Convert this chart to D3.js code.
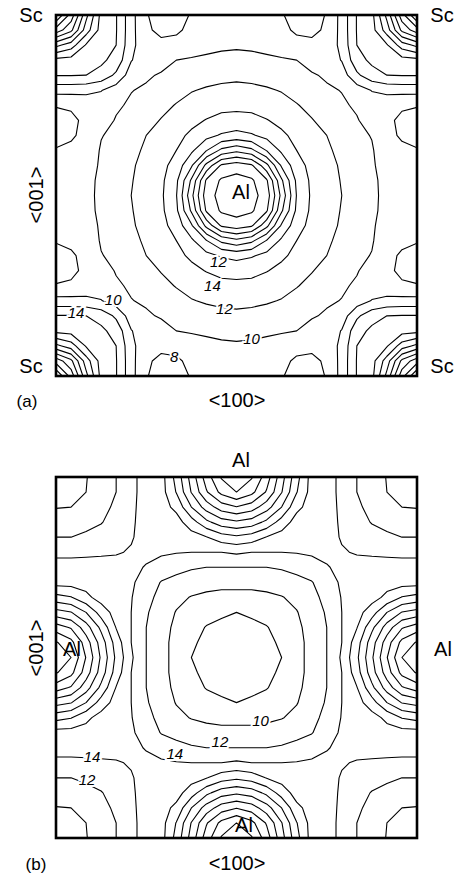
<!DOCTYPE html>
<html><head><meta charset="utf-8">
<script src="https://cdn.jsdelivr.net/npm/d3@7"></script>
<style>body{margin:0;background:#fff}svg{display:block}text{font-family:"Liberation Sans",Arial,sans-serif;fill:#000}</style>
</head><body><svg id="c" width="466" height="879"></svg>
<script>
// Charge density values (10^-3 e/bohr^3), one quadrant each
// (rows = <001> steps from the top edge, columns = <100> steps from the left edge, 24 steps per cell).
// (a): Sc corner at [0][0], Al at [12][12].  (b): empty corner at [0][0], Al at [0][12] and [12][0].
const quadA = [
  [32.0,27.2,20.6,15.4,14.1,10.7, 8.1, 7.4, 7.5, 8.1, 8.5, 8.7, 8.8],
  [27.2,24.5,19.0,15.2,14.1,10.7, 8.2, 7.7, 7.8, 8.3, 8.6, 8.8, 8.9],
  [20.6,19.0,15.8,14.8,14.0,10.6, 8.6, 8.3, 8.4, 8.6, 9.2, 9.6, 9.7],
  [15.4,15.2,14.8,14.4,13.3,10.1, 8.9, 8.9,10.0,10.3,10.5,10.6,10.7],
  [14.1,14.1,14.0,13.3,11.6, 9.0, 9.6,10.3,10.6,11.0,11.3,11.5,11.6],
  [10.7,10.7,10.6,10.1, 9.0, 9.9,10.4,10.9,11.4,11.9,12.2,12.4,12.5],
  [ 8.1, 8.2, 8.6, 8.9, 9.6,10.4,10.9,11.5,12.1,12.6,13.0,13.4,13.5],
  [ 7.4, 7.7, 8.3, 8.8,10.2,10.8,11.4,12.1,12.7,13.4,14.1,14.6,14.7],
  [ 7.5, 7.8, 8.4, 9.9,10.5,11.2,12.0,12.6,13.4,14.4,15.4,16.2,16.6],
  [ 8.1, 8.3, 8.6,10.2,10.8,11.5,12.3,13.0,14.0,15.6,17.9,20.5,21.5],
  [ 8.5, 8.6, 9.0,10.3,11.0,11.8,12.5,13.4,14.8,17.7,22.6,26.3,27.1],
  [ 8.7, 8.8, 9.4,10.4,11.1,11.9,12.7,13.6,15.6,20.3,26.3,28.3,28.7],
  [ 8.8, 8.9, 9.5,10.4,11.1,12.0,12.7,13.7,15.9,21.4,27.1,28.7,29.5]
];
const quadB = [
  [ 9.0, 9.4, 9.9,11.1,12.0,13.5,14.8,15.2,18.7,22.8,27.0,30.2,31.0],
  [ 9.4, 9.6,10.0,11.2,12.0,13.5,14.8,15.2,18.1,22.1,25.8,28.6,30.0],
  [ 9.9,10.0,10.7,11.5,12.3,13.6,14.8,15.2,16.5,20.0,22.9,25.0,25.9],
  [11.1,11.2,11.5,11.9,12.7,13.7,14.8,15.2,15.2,17.1,19.5,21.1,21.7],
  [12.0,12.0,12.3,12.7,13.2,13.8,14.9,15.2,15.2,15.2,15.9,17.1,17.6],
  [13.5,13.5,13.6,13.7,13.8,14.2,14.7,14.3,14.1,14.0,14.0,14.0,14.3],
  [14.8,14.8,14.8,14.8,14.9,14.7,13.8,13.1,12.6,12.2,12.0,12.0,12.0],
  [15.2,15.2,15.2,15.2,15.2,14.3,13.1,11.9,11.4,11.0,10.7,10.6,10.6],
  [18.7,18.1,16.5,15.2,15.2,14.1,12.6,11.4,10.5, 9.9, 9.6, 9.4, 9.4],
  [22.8,22.1,20.0,17.1,15.2,14.0,12.2,11.0, 9.9, 9.3, 8.7, 8.2, 8.0],
  [27.0,25.8,22.9,19.5,15.9,14.0,12.0,10.7, 9.6, 8.7, 7.9, 7.7, 7.7],
  [30.2,28.6,25.0,21.1,17.1,14.0,12.0,10.6, 9.4, 8.2, 7.7, 7.5, 7.3],
  [31.0,30.0,25.9,21.7,17.6,14.3,12.0,10.6, 9.4, 8.0, 7.7, 7.3, 7.0]
];
const levelsA = [8,10,12,14,16,18,20,22,24,26,28,30,32];
const levelsB = [8,10,12,14,16,18,20,22,24,26,28,30];
// contour labels: text and position in grid steps (u along <100>, v down from top)
const labelsA = [
  {t:"12",u:10.8,v:16.4},{t:"14",u:10.4,v:18.0},{t:"12",u:11.2,v:19.5},{t:"10",u:13.0,v:21.5},
  {t:"10",u:3.8,v:18.95},{t:"14",u:1.33,v:19.8},{t:"8",u:7.85,v:22.7}
];
const labelsB = [
  {t:"10",u:13.6,v:16.2},{t:"12",u:10.9,v:17.6},{t:"14",u:7.9,v:18.4},{t:"14",u:2.4,v:18.6},{t:"12",u:2.06,v:20.1}
];
const atomsA = ["Sc","Sc","Sc","Sc","Al"];
const atomsB = ["Al","Al","Al","Al"];

const svg=d3.select("#c");
function fold(k){ const m=((k%24)+24)%24; return Math.min(m,24-m); }
function panel(quad,levels,x0,y0,id){
  const n=27, vals=new Array(n*n);
  for(let j=0;j<n;j++) for(let i=0;i<n;i++) vals[i+j*n]=quad[fold(j-1)][fold(i-1)];
  const W=361, k=W/24;
  const sx=d3.scaleLinear().domain([0,24]).range([x0,x0+W]);
  const sy=d3.scaleLinear().domain([0,24]).range([y0,y0+W]);
  svg.append("clipPath").attr("id",id).append("rect").attr("x",x0).attr("y",y0).attr("width",W).attr("height",W);
  // grid sample m sits at contour coordinate m+0.5 and at step m-1
  const path=d3.geoPath(d3.geoIdentity().scale(k).translate([sx(-1.5),sy(-1.5)]));
  const cs=d3.contours().size([n,n]).thresholds(levels)(vals);
  svg.append("g").attr("clip-path",`url(#${id})`).selectAll("path").data(cs).join("path")
    .attr("d",path).attr("fill","none").attr("stroke","#000").attr("stroke-width",1.1).attr("stroke-linejoin","round");
  svg.append("rect").attr("x",x0).attr("y",y0).attr("width",W).attr("height",W).attr("fill","none").attr("stroke","#000").attr("stroke-width",2.6);
  return {x:sx,y:sy};
}
const sa=panel(quadA,levelsA,56,15,"ca");
const sb=panel(quadB,levelsB,56,477,"cb");
function clabels(labs,s){
  svg.append("g").selectAll("text").data(labs).join("text")
    .attr("x",d=>s.x(d.u)).attr("y",d=>s.y(d.v)).attr("dy","0.35em").attr("text-anchor","middle")
    .attr("font-size",15).attr("font-style","italic").attr("stroke","#fff").attr("stroke-width",4).attr("paint-order","stroke")
    .text(d=>d.t);
}
clabels(labelsA,sa); clabels(labelsB,sb);
function txt(x,y,t,size,rot){ const e=svg.append("text").attr("x",x).attr("y",y).attr("font-size",size).attr("text-anchor","middle").text(t); if(rot) e.attr("transform",`rotate(-90,${x},${y})`); return e; }
// panel (a) atom labels
txt(31,22,atomsA[0],20); txt(442,22,atomsA[1],20); txt(31,373,atomsA[2],20); txt(442,373,atomsA[3],20);
txt(sa.x(12.3),199,atomsA[4],20);
txt(43,195,"<001>",20,true);
txt(237,407,"<100>",20); txt(27,407,"(a)",17);
// panel (b)
txt(241,467,atomsB[0],20); txt(443,656,atomsB[1],20); txt(72,656,atomsB[2],20); txt(244,832,atomsB[3],20);
txt(43,648,"<001>",20,true);
txt(237,870,"<100>",20); txt(36,870,"(b)",17);
</script></body></html>
